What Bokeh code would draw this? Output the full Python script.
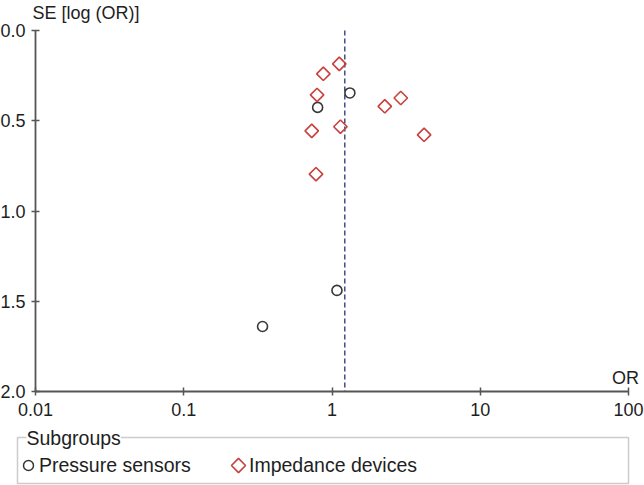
from math import pi, log10
from bokeh.plotting import figure
from bokeh.models import (Range1d, FixedTicker, Label, Legend, LegendItem,
                          BoxAnnotation, LinearAxis, LogAxis)
from bokeh.layouts import column
from bokeh.embed import file_html
from bokeh.resources import INLINE

# ---- data ----
pressure_or = [1.32, 0.80, 1.08, 0.34]
pressure_se = [0.346, 0.426, 1.44, 1.64]
impedance_or = [1.12, 0.874, 0.793, 2.27, 2.91, 0.73, 1.14, 4.18, 0.78]
impedance_se = [0.185, 0.24, 0.357, 0.42, 0.374, 0.556, 0.533, 0.578, 0.796]
pooled_or = [1.22]
x_ticks = [0.01, 0.1, 1, 10, 100]
x_tick_labels = ["0.01", "0.1", "1", "10", "100"]
y_ticks = [0.0, 0.5, 1.0, 1.5, 2.0]
y_tick_labels = ["0.0", "0.5", "1.0", "1.5", "2.0"]
series_names = ["Pressure sensors", "Impedance devices"]
legend_title = "Subgroups"
x_title = "OR"
y_title = "SE [log (OR)]"

FONT = "Liberation Sans"
TXT = "#1e1e1e"
AX = "#555555"
RED = "#c8413c"
DARK = "#383838"
NAVY = "#33427f"

# ---- layout (pixels) ----
W, H1, H2 = 644, 425, 60
AX_X0, AX_X1 = 35, 628        # pixel x of first / last x tick
AX_Y0, AX_Y1 = 30, 391        # pixel y of first / last y tick
dec_px = (AX_X1 - AX_X0) / (log10(x_ticks[-1]) - log10(x_ticks[0]))
se_px = (AX_Y1 - AX_Y0) / (y_ticks[-1] - y_ticks[0])
x_view_start = 10 ** (log10(x_ticks[0]) - AX_X0 / dec_px)
x_view_end = 10 ** (log10(x_ticks[-1]) + (W - AX_X1) / dec_px)
y_view_top = y_ticks[0] - AX_Y0 / se_px
y_view_bottom = y_ticks[-1] + (H1 - AX_Y1) / se_px

p = figure(width=W, height=H1, x_axis_type="log",
           x_range=Range1d(x_view_start, x_view_end),
           y_range=Range1d(y_view_bottom, y_view_top),
           x_axis_location=None, y_axis_location=None,
           output_backend="svg", toolbar_location=None,
           min_border_left=0, min_border_right=0, min_border_top=0,
           min_border_bottom=0)
p.outline_line_color = None
p.grid.visible = False

xax = LogAxis(fixed_location=y_ticks[-1], bounds=(x_ticks[0], x_ticks[-1]))
yax = LinearAxis(fixed_location=x_ticks[0], bounds=(y_ticks[0], y_ticks[-1]))
p.add_layout(xax, "below")
p.add_layout(yax, "left")

for ax in (xax, yax):
    ax.axis_line_color = AX
    ax.axis_line_width = 1.8
    ax.major_tick_line_color = AX
    ax.major_tick_line_width = 1.5
    ax.major_tick_in = 4
    ax.major_tick_out = 4
    ax.minor_tick_line_color = None
    ax.major_label_text_font = FONT
    ax.major_label_text_font_size = "18px"
    ax.major_label_text_color = TXT
xax.ticker = FixedTicker(ticks=x_ticks)
xax.major_label_overrides = {t: l for t, l in zip(x_ticks, x_tick_labels)}
yax.ticker = FixedTicker(ticks=y_ticks)
yax.major_label_overrides = {t: l for t, l in zip(y_ticks, y_tick_labels)}
xax.major_label_standoff = 7
yax.major_label_standoff = 6

# pooled estimate (dashed), from SE 0 to the bottom of the axis
p.segment(x0=pooled_or, y0=[y_ticks[0]], x1=pooled_or, y1=[y_ticks[-1]],
          line_color=NAVY, line_width=1.4, line_dash="5 3")

p.scatter(pressure_or, pressure_se, marker="circle", size=10, fill_color=None,
          line_color=DARK, line_width=1.6)
p.scatter(impedance_or, impedance_se, marker="square", angle=pi / 4, size=9.5,
          fill_color=None, line_color=RED, line_width=1.6)

# axis titles
p.add_layout(Label(x=10 ** (log10(x_view_start) + 32 / dec_px),
                   y=y_view_top + 2 / se_px, text=y_title, text_align="left",
                   text_baseline="top", text_font=FONT, text_font_size="18px",
                   text_color=TXT))
p.add_layout(Label(x=x_ticks[-1], y=y_ticks[-1], text=x_title, text_align="center",
                   text_baseline="bottom", x_offset=-3, y_offset=4, text_font=FONT,
                   text_font_size="18px", text_color=TXT))

# ---- legend box (pixel-like ranges for the panel) ----
LEG_X, LEG_Y = 17, 8
GLYPH_W, STANDOFF, LABEL_W, SPACING = 22, 0, 170, 18
SW_Y = 40   # vertical centre of the legend row (panel pixels from top)

p2 = figure(width=W, height=H2, x_range=Range1d(0, W), y_range=Range1d(H2, 0),
            output_backend="svg", toolbar_location=None,
            x_axis_location=None, y_axis_location=None,
            min_border_left=0, min_border_right=0, min_border_top=0,
            min_border_bottom=0)
p2.grid.visible = False
p2.outline_line_color = None
p2.add_layout(BoxAnnotation(left=17, right=628, top=12, bottom=58, fill_alpha=0,
                            line_color=AX, line_width=1.5))

# legend keys: Bokeh draws legend markers unrotated, so the keys are drawn here
# as rotated/plain markers at the legend's glyph slots
sw_x = [LEG_X + GLYPH_W / 2,
        LEG_X + GLYPH_W + STANDOFF + LABEL_W + SPACING + GLYPH_W / 2]
nan = float("nan")
lp = p2.scatter([nan], [nan], marker="circle", size=10, fill_color=None,
                line_color=DARK, line_alpha=0)
li = p2.scatter([nan], [nan], marker="square", size=10, fill_color=None,
                line_color=RED, line_alpha=0)
p2.scatter([sw_x[0]], [SW_Y], marker="circle", size=10, fill_color=None,
           line_color=DARK, line_width=1.5)
p2.scatter([sw_x[1]], [SW_Y], marker="square", angle=pi / 4, size=10,
           fill_color=None, line_color=RED, line_width=1.6)

leg = Legend(items=[LegendItem(label=series_names[0], renderers=[lp]),
                    LegendItem(label=series_names[1], renderers=[li])],
             orientation="horizontal", location=(LEG_X, LEG_Y), margin=0, padding=0,
             spacing=SPACING, glyph_width=GLYPH_W, glyph_height=22,
             label_standoff=STANDOFF, label_width=LABEL_W, label_text_font=FONT,
             label_text_font_size="19.5px", label_text_color=TXT,
             border_line_color=None, background_fill_alpha=0)
p2.add_layout(leg)
p2.add_layout(Label(x=26, y=12, text=legend_title, text_baseline="middle",
                    text_align="left", background_fill_color="white", text_font=FONT,
                    text_font_size="19.5px", text_color=TXT))

layout = column(p, p2)
open("out.html", "w").write(file_html(layout, INLINE))
